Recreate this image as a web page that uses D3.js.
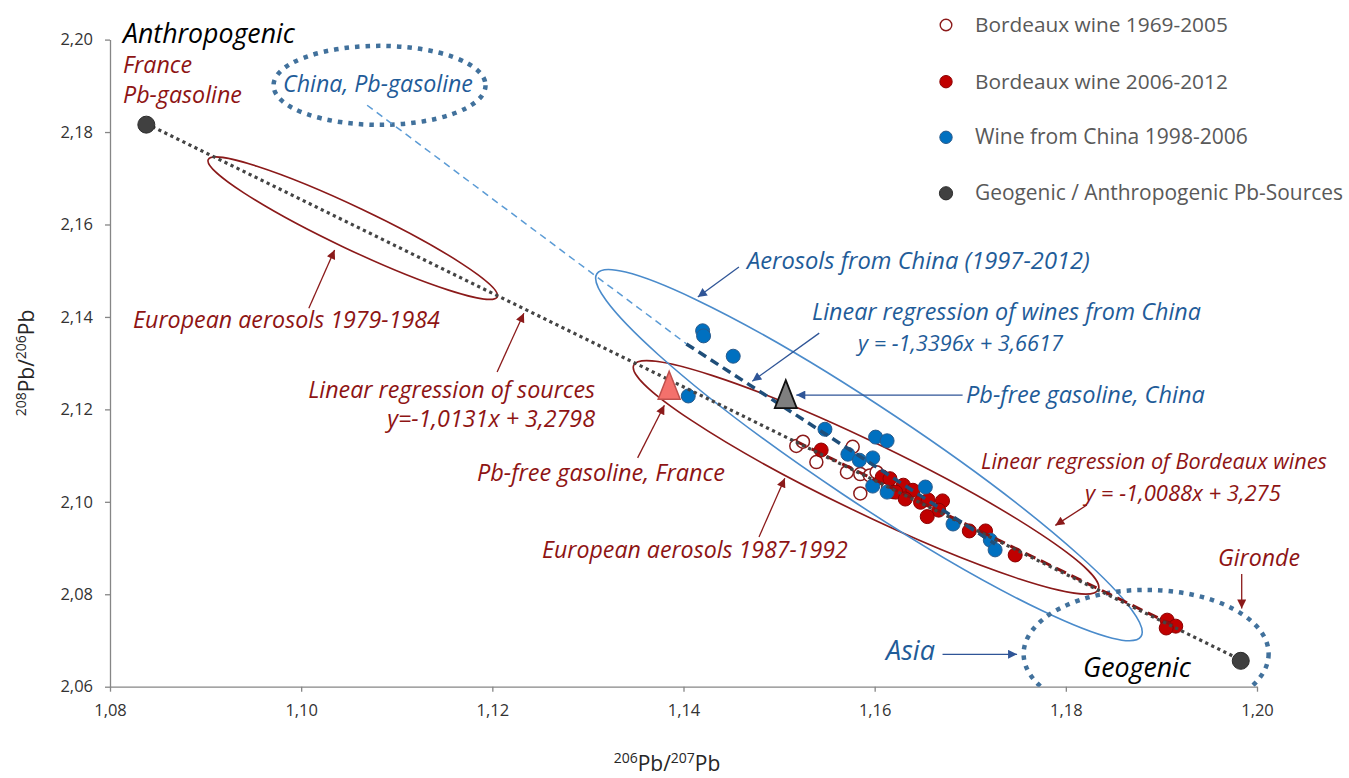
<!DOCTYPE html>
<html>
<head>
<meta charset="utf-8">
<script src="https://cdn.jsdelivr.net/npm/d3@7"></script>
<style>
body { margin: 0; background: #fff; }
svg { display: block; }
text { font-family: "Open Sans", sans-serif; }
</style>
</head>
<body>
<div class="main"></div>
<script>
// data (206Pb/207Pb, 208Pb/206Pb)
var bordeauxOld = [[1.1518,2.1121],[1.1525,2.1130],[1.1539,2.1086],[1.1577,2.1119],[1.1571,2.1064],[1.1585,2.1060],
  [1.1595,2.1057],[1.1585,2.1018],[1.1602,2.1064],[1.1614,2.1030],[1.1619,2.1021]];
var bordeauxNew = [[1.1544,2.1112],[1.1608,2.1054],[1.1616,2.1050],[1.1630,2.1036],[1.1622,2.1021],[1.1640,2.1025],
  [1.1632,2.1006],[1.1648,2.0999],[1.1656,2.1004],[1.1671,2.1002],[1.1667,2.0982],[1.1655,2.0968],[1.1699,2.0937],
  [1.1716,2.0937],[1.1747,2.0885],[1.1906,2.0744],[1.1915,2.0731],[1.1905,2.0727]];
var chinaWine = [[1.1420,2.1370],[1.1421,2.1359],[1.1452,2.1315],[1.1405,2.1229],[1.1548,2.1157],[1.1601,2.1140],
  [1.1613,2.1132],[1.1572,2.1103],[1.1584,2.1090],[1.1598,2.1095],[1.1598,2.1034],[1.1613,2.1021],[1.1653,2.1032],
  [1.1682,2.0952],[1.1721,2.0917],[1.1726,2.0896]];
var sources = [[1.0838,2.1816],[1.1983,2.0656]];   // anthropogenic, geogenic
var pbFreeFrance = [1.1385,2.1252];
var pbFreeChina = [1.1507,2.1233];

// regressions: [slope, intercept] and x range
var fitSources = [-1.0131, 3.2798], fitSourcesX = [1.0838, 1.1983];
var fitChina = [-1.3396, 3.6617], fitChinaX = [1.1403, 1.1726];
var fitBordeaux = [-1.0088, 3.275], fitBordeauxX = [1.1518, 1.1915];
var chinaLink = [[1.1069,2.1858],[1.1403,2.1342]];

var xTicks = [1.08,1.10,1.12,1.14,1.16,1.18,1.20];
var yTicks = [2.06,2.08,2.10,2.12,2.14,2.16,2.18,2.20];
var legendLabels = ["Bordeaux wine 1969-2005","Bordeaux wine 2006-2012","Wine from China 1998-2006","Geogenic / Anthropogenic Pb-Sources"];

var red = "#8E1414", blue = "#1F5C99", steel = "#41719C";

var margin = {top: 39.6, right: 92, bottom: 91.3, left: 110},
width = 1349 - margin.left - margin.right,
height = 778 - margin.top - margin.bottom;

var svg = d3.select(".main")
.append("svg")
.attr("width", 1349)
.attr("height", 778);

var g = svg.append("g")
.attr("transform", "translate(" + margin.left + "," + margin.top + ")");

var x = d3.scaleLinear().domain([1.08, 1.20]).range([0, width]);
var y = d3.scaleLinear().domain([2.06, 2.20]).range([height, 0]);

var comma = function(d){ return d3.format(".2f")(d).replace(".", ","); };

// defs: clip + arrowheads
var defs = svg.append("defs");
defs.append("clipPath").attr("id", "plot")
.append("rect").attr("x", 0).attr("y", -5).attr("width", width + 20).attr("height", height + 5);
[["arRed", "#8B1A1A"], ["arBlue", "#2F5597"]].forEach(function(m){
  defs.append("marker")
  .attr("id", m[0])
  .attr("viewBox", "0 0 10 10")
  .attr("refX", 10).attr("refY", 5)
  .attr("markerUnits", "userSpaceOnUse")
  .attr("markerWidth", 10).attr("markerHeight", 9)
  .attr("orient", "auto")
  .append("path").attr("d", "M0,0L10,5L0,10Z").attr("fill", m[1]);
});

// axes
var yAxis = d3.axisLeft(y).tickValues(yTicks).tickFormat(comma).tickSize(5).tickSizeOuter(0).tickPadding(12);
var xAxis = d3.axisBottom(x).tickValues(xTicks).tickFormat(comma).tickSize(5).tickSizeOuter(0).tickPadding(13);

var yg = g.append("g").attr("class", "axis").call(yAxis);
var xg = g.append("g").attr("class", "axis").attr("transform", "translate(0," + height + ")").call(xAxis);
[yg, xg].forEach(function(ax){
  ax.attr("font-size", 16.5).attr("font-family", "Open Sans");
  ax.selectAll("path, line").attr("stroke", "#868686").attr("stroke-width", 1.3);
  ax.selectAll("text").attr("fill", "#333").style("font-size", "16.5px");
});

// ellipses (annotation shapes anchored in data space)
var ellipses = [
  {c: [1.1054, 2.1592], rx: 160, ry: 21, rot: 25.4, stroke: "#8B1A1A", w: 1.6, dash: null},
  {c: [1.1591, 2.1053], rx: 258, ry: 35, rot: 25.8, stroke: "#8B1A1A", w: 1.6, dash: null},
  {c: [1.1594, 2.1101], rx: 327, ry: 47, rot: 33.7, stroke: "#4A8BCB", w: 1.6, dash: null},
  {c: [1.1082, 2.1901], rx: 106, ry: 39.5, rot: 0, stroke: steel, w: 4.5, dash: "4.5,6"},
  {c: [1.1884, 2.0671], rx: 122.5, ry: 64, rot: 0, stroke: steel, w: 4.5, dash: "4.5,6"}
];
g.append("g").attr("clip-path", "url(#plot)")
.selectAll("ellipse").data(ellipses).enter().append("ellipse")
.attr("transform", function(d){ return "translate(" + x(d.c[0]) + "," + y(d.c[1]) + ") rotate(" + d.rot + ")"; })
.attr("rx", function(d){ return d.rx; })
.attr("ry", function(d){ return d.ry; })
.attr("fill", "none")
.attr("stroke", function(d){ return d.stroke; })
.attr("stroke-width", function(d){ return d.w; })
.attr("stroke-dasharray", function(d){ return d.dash; });

// points
g.selectAll(".old").data(bordeauxOld).enter().append("circle")
.attr("class", "old")
.attr("cx", function(d){ return x(d[0]); }).attr("cy", function(d){ return y(d[1]); })
.attr("r", 6.5).attr("fill", "#fff").attr("stroke", "#8B1A1A").attr("stroke-width", 1.5);

g.selectAll(".new").data(bordeauxNew).enter().append("circle")
.attr("class", "new")
.attr("cx", function(d){ return x(d[0]); }).attr("cy", function(d){ return y(d[1]); })
.attr("r", 7).attr("fill", "#C00000").attr("stroke", "#8B0000").attr("stroke-width", 1);

g.selectAll(".china").data(chinaWine).enter().append("circle")
.attr("class", "china")
.attr("cx", function(d){ return x(d[0]); }).attr("cy", function(d){ return y(d[1]); })
.attr("r", 7).attr("fill", "#0070C0").attr("stroke", "#2A5B8C").attr("stroke-width", 1);

// regression lines
var line = d3.line().x(function(d){ return x(d[0]); }).y(function(d){ return y(d[1]); });
function fitPoints(fit, xr){ return xr.map(function(v){ return [v, fit[0] * v + fit[1]]; }); }

g.append("path").attr("d", line(chinaLink))
.attr("fill", "none").attr("stroke", "#5B9BD5").attr("stroke-width", 1.5).attr("stroke-dasharray", "7,5");
g.append("path").attr("d", line(fitPoints(fitBordeaux, fitBordeauxX)))
.attr("fill", "none").attr("stroke", "#8B1010").attr("stroke-width", 3).attr("stroke-dasharray", "11,6");
g.append("path").attr("d", line(fitPoints(fitSources, fitSourcesX)))
.attr("fill", "none").attr("stroke", "#444").attr("stroke-width", 3.2).attr("stroke-dasharray", "3.2,3.5");
g.append("path").attr("d", line(fitPoints(fitChina, fitChinaX)))
.attr("fill", "none").attr("stroke", "#1F4E79").attr("stroke-width", 3.5).attr("stroke-dasharray", "9,5.5");

// triangles
function tri(p){
  var cx = x(p[0]), cy = y(p[1]);
  return "M" + cx + "," + (cy - 14) + "L" + (cx + 11) + "," + (cy + 14) + "L" + (cx - 11) + "," + (cy + 14) + "Z";
}
g.append("path").attr("d", tri(pbFreeFrance)).attr("fill", "#F4716C").attr("stroke", "#C0504D").attr("stroke-width", 1.5);
g.append("path").attr("d", tri(pbFreeChina)).attr("fill", "#7F7F7F").attr("stroke", "#111").attr("stroke-width", 1.8);

// source end members
g.selectAll(".src").data(sources).enter().append("circle")
.attr("class", "src")
.attr("cx", function(d){ return x(d[0]); }).attr("cy", function(d){ return y(d[1]); })
.attr("r", 8.5).attr("fill", "#404040").attr("stroke", "#2b2b2b").attr("stroke-width", 1);

// arrows
var arrows = [
  {from: [1.1008,2.1419], to: [1.1035,2.1545], m: "arRed", c: "#8B1A1A"},
  {from: [1.1205,2.1281], to: [1.1233,2.1408], m: "arRed", c: "#8B1A1A"},
  {from: [1.1352,2.1095], to: [1.1380,2.1209], m: "arRed", c: "#8B1A1A"},
  {from: [1.1479,2.0924], to: [1.1506,2.1051], m: "arRed", c: "#8B1A1A"},
  {from: [1.1458,2.1508], to: [1.1415,2.1443], m: "arBlue", c: "#2F5597"},
  {from: [1.1542,2.1365], to: [1.1472,2.1261], m: "arBlue", c: "#2F5597"},
  {from: [1.1692,2.1231], to: [1.1518,2.1231], m: "arBlue", c: "#2F5597"},
  {from: [1.1822,2.0993], to: [1.1789,2.0949], m: "arRed", c: "#8B1A1A"},
  {from: [1.1984,2.0844], to: [1.1984,2.0769], m: "arRed", c: "#8B1A1A"},
  {from: [1.1671,2.0670], to: [1.1749,2.0670], m: "arBlue", c: "#2F5597"}
];
g.selectAll(".arrow").data(arrows).enter().append("line")
.attr("class", "arrow")
.attr("x1", function(d){ return x(d.from[0]); }).attr("y1", function(d){ return y(d.from[1]); })
.attr("x2", function(d){ return x(d.to[0]); }).attr("y2", function(d){ return y(d.to[1]); })
.attr("stroke", function(d){ return d.c; }).attr("stroke-width", 1.3)
.attr("marker-end", function(d){ return "url(#" + d.m + ")"; });

// text fitted to the width it takes in the original figure
function fit(sel, w){
  var len = sel.node().getComputedTextLength();
  var fs = parseFloat(sel.style("font-size"));
  sel.style("font-size", (fs * w / len) + "px");
}

var labels = [
  {t: "Anthropogenic", x: 123, y: 43, w: 172, c: "#000"},
  {t: "France", x: 123, y: 73, w: 69, c: red},
  {t: "Pb-gasoline", x: 123, y: 103.4, w: 119, c: red},
  {t: "China, Pb-gasoline", x: 283, y: 92, w: 190, c: blue},
  {t: "European aerosols 1979-1984", x: 133, y: 328, w: 307, c: red},
  {t: "Linear regression of sources", x: 595, y: 398, w: 287, c: red, a: "end"},
  {t: "y=-1,0131x + 3,2798", x: 595, y: 427, w: 208, c: red, a: "end"},
  {t: "Pb-free gasoline, France", x: 477, y: 481, w: 248, c: red},
  {t: "European aerosols 1987-1992", x: 542, y: 558, w: 306, c: red},
  {t: "Aerosols from China (1997-2012)", x: 747, y: 269, w: 343, c: blue},
  {t: "Linear regression of wines from China", x: 812, y: 320, w: 389, c: blue},
  {t: "y = -1,3396x + 3,6617", x: 858, y: 351, w: 205, c: blue},
  {t: "Pb-free gasoline, China", x: 966, y: 403, w: 239, c: blue},
  {t: "Linear regression of Bordeaux wines", x: 981, y: 469, w: 346, c: red},
  {t: "y = -1,0088x + 3,275", x: 1085, y: 501, w: 196, c: red},
  {t: "Gironde", x: 1218, y: 566, w: 82, c: red},
  {t: "Asia", x: 886, y: 660, w: 49, c: blue},
  {t: "Geogenic", x: 1083, y: 677, w: 108, c: "#000"}
];
labels.forEach(function(d){
  var t = svg.append("text")
  .attr("x", d.x).attr("y", d.y)
  .attr("text-anchor", d.a || "start")
  .attr("fill", d.c)
  .style("font-style", "italic")
  .style("font-size", "20px")
  .text(d.t);
  fit(t, d.w);
});

// legend
var legendY = [25, 81.7, 137.3, 193.3];
var legendW = [253, 253, 273, 368];
var legend = svg.append("g").attr("class", "legend");
legendLabels.forEach(function(name, i){
  var mk = legend.append("circle").attr("cx", 946).attr("cy", legendY[i]).attr("r", 6.2);
  if (i == 0) mk.attr("fill", "#fff").attr("stroke", "#8B1A1A").attr("stroke-width", 1.4).attr("r", 5.8);
  if (i == 1) mk.attr("fill", "#C00000").attr("stroke", "#8B0000");
  if (i == 2) mk.attr("fill", "#0070C0").attr("stroke", "#2A5B8C");
  if (i == 3) mk.attr("fill", "#404040").attr("stroke", "#2b2b2b").attr("r", 6.6);
  var t = legend.append("text")
  .attr("x", 975).attr("y", legendY[i] + 7)
  .attr("fill", "#595959")
  .style("font-size", "18px")
  .text(name);
  fit(t, legendW[i]);
});

// axis titles with superscript mass numbers
function isoTitle(sel, a, b){
  sel.append("tspan").attr("dy", "-8").style("font-size", "14px").text(a);
  sel.append("tspan").attr("dy", "8").text("Pb/");
  sel.append("tspan").attr("dy", "-8").style("font-size", "14px").text(b);
  sel.append("tspan").attr("dy", "8").text("Pb");
}
var xt = svg.append("text")
.attr("x", 667).attr("y", 771)
.attr("text-anchor", "middle")
.attr("fill", "#262626")
.style("font-size", "21px");
isoTitle(xt, "206", "207");

var yt = svg.append("text")
.attr("transform", "translate(34,363) rotate(-90)")
.attr("text-anchor", "middle")
.attr("fill", "#262626")
.style("font-size", "21px");
isoTitle(yt, "208", "206");
</script>
</body>
</html>
